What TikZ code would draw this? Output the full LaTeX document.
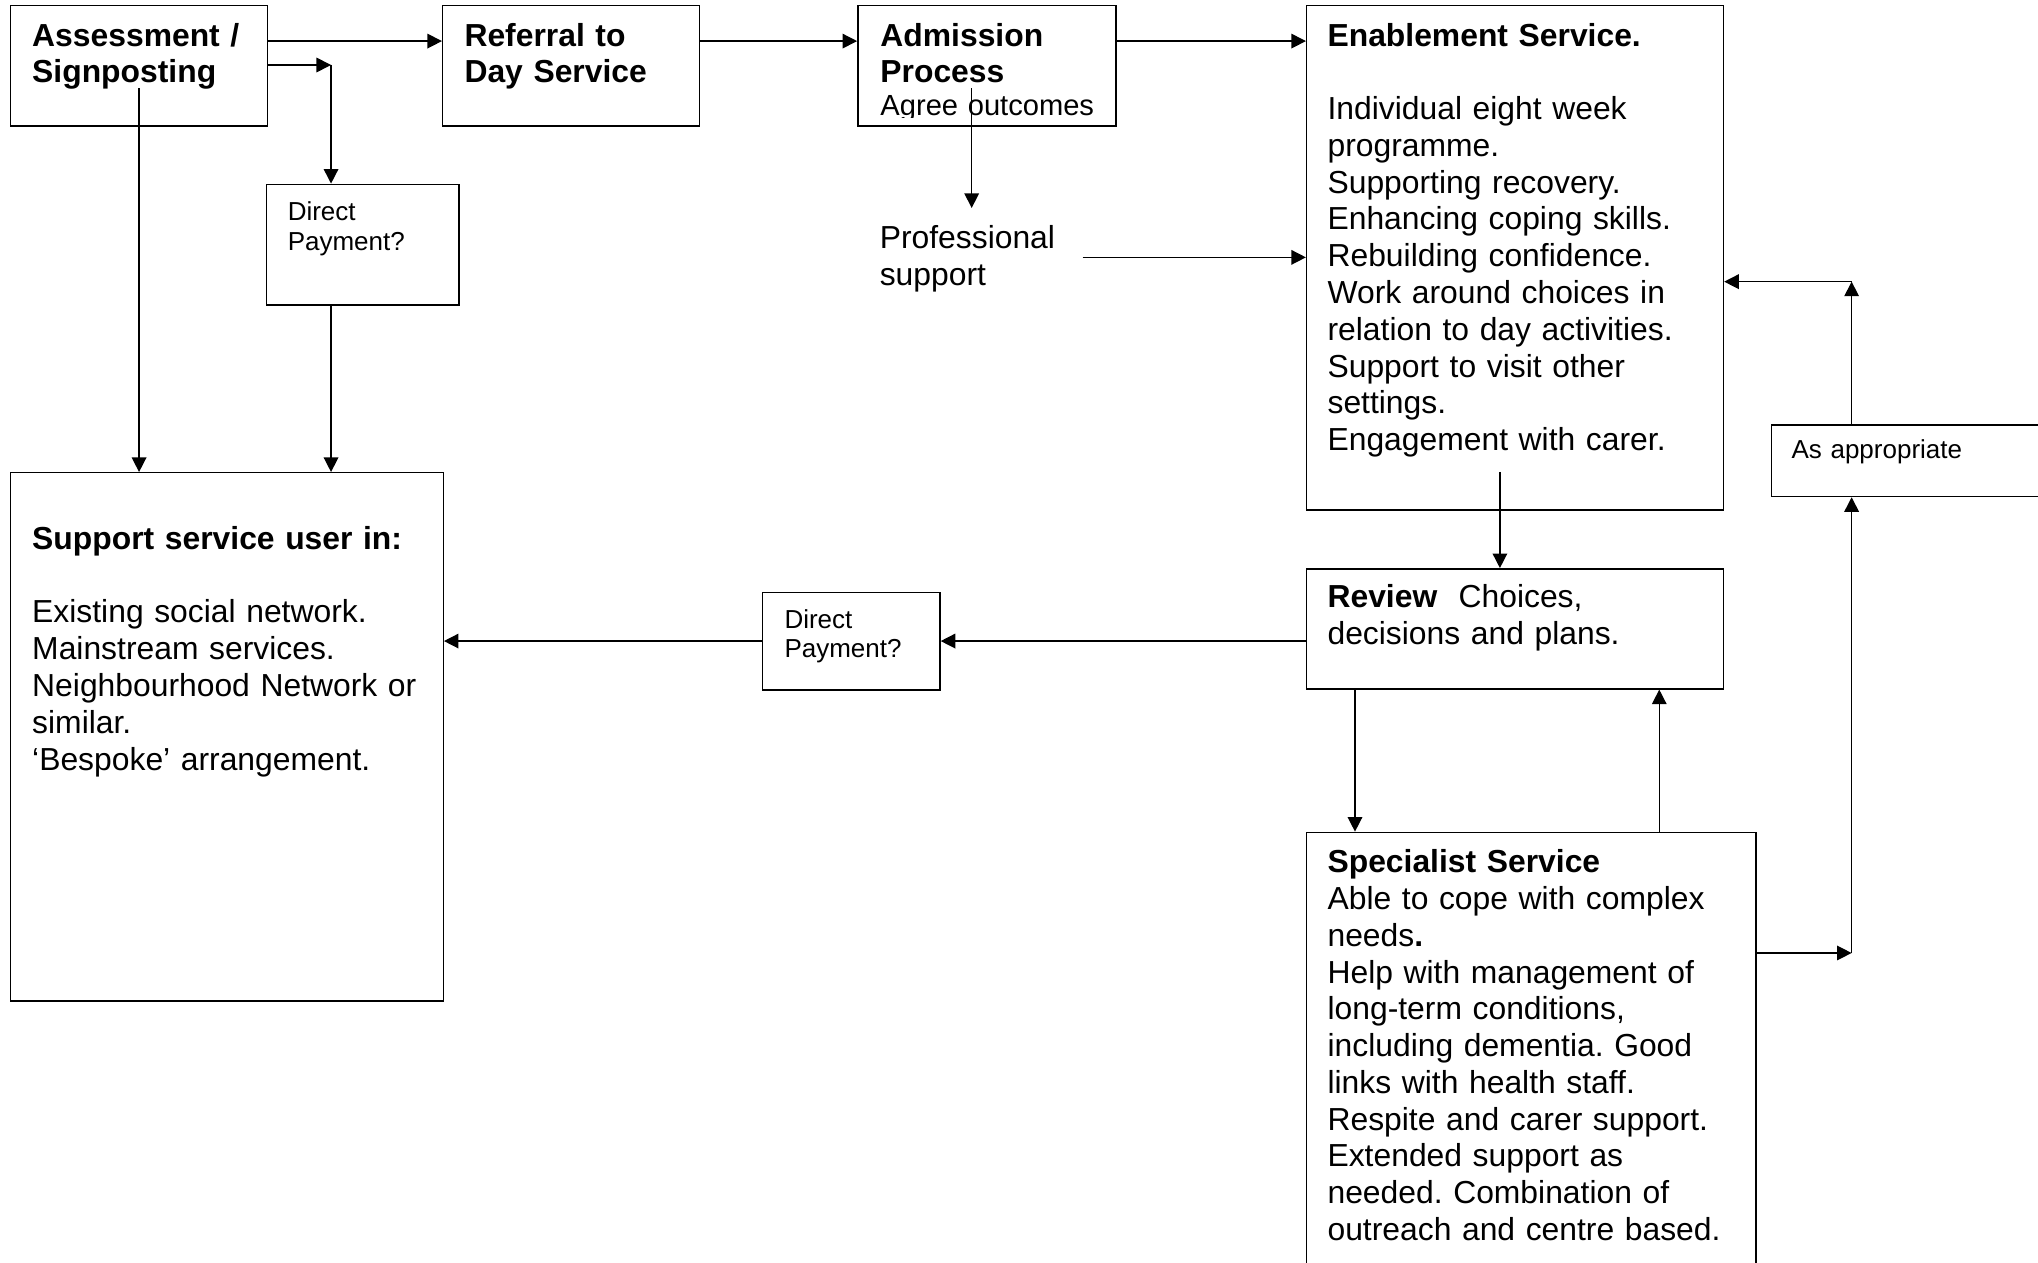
\documentclass[tikz,border=0pt]{standalone}
\usepackage{fontspec}
\setmainfont{Liberation Sans}
\usetikzlibrary{arrows.meta,positioning,fit,calc}
\frenchspacing

\begin{document}
\begin{tikzpicture}[x=0.5pt, y=-0.5pt]
  \tikzstyle{box} = [draw, line width=0.55pt, inner sep=0pt]
  \tikzstyle{txt} = [inner sep=0pt, anchor=base west, align=left, text width=300pt,
                     font=\fontsize{12.25}{14.15}\selectfont]
  \tikzstyle{small} = [inner sep=0pt, anchor=base west, align=left, text width=100pt,
                       font=\fontsize{10}{11.4}\selectfont]
  \tikzstyle{arr} = [line width=0.55pt, -{Triangle[length=5.6pt, width=5.6pt]}]

  \useasboundingbox (0,0) rectangle (1568,971);
  \clip (0,0) rectangle (1568,971);

  % boxes
  \node[box, fit={(8.2,4.4) (205.6,97)}] (assess) {};
  \node[box, fit={(340.6,4.4) (538,97)}] (referral) {};
  \node[box, fit={(660,4.4) (858.6,97)}] (admit) {};
  \node[box, fit={(1005.3,4.4) (1326,392.4)}] (enable) {};
  \node[box, fit={(205,141.8) (353,234.8)}] (dpone) {};
  \node[box, fit={(8.2,363.7) (341,770)}] (support) {};
  \node[box, fit={(586.8,456) (723.2,531)}] (dptwo) {};
  \node[box, fit={(1005.3,437.6) (1326,530)}] (review) {};
  \node[box, fit={(1362.8,327) (1590,382)}] (approp) {};
  \node[box, fit={(1005.3,640.4) (1351,1000)}] (special) {};

  % texts
  \node[txt] (assesstxt) at (24.4,35.4) {\textbf{Assessment /}\\\textbf{Signposting}};
  \node[txt] (referraltxt) at (357,35.4) {\textbf{Referral to}\\\textbf{Day Service}};
  \begin{scope}
    \clip (660,4.4) rectangle (858.6,90.5);
    \node[txt] (admittxt) at (677,35.4) {\textbf{Admission}\\\textbf{Process}};
    \node[txt, font=\fontsize{11.2}{13}\selectfont] (agreetxt) at (677,88.5) {Agree outcomes};
  \end{scope}
  \node[txt] (enabletxt) at (1021,35.4) {\textbf{Enablement Service.}\\ \mbox{}\\
    Individual eight week\\ programme.\\ Supporting recovery.\\ Enhancing coping skills.\\
    Rebuilding confidence.\\ Work around choices in\\ relation to day activities.\\
    Support to visit other\\ settings.\\ Engagement with carer.};
  \node[small] (dponetxt) at (221,169.8) {Direct\\ Payment?};
  \node[txt] (prof) at (676.5,191) {Professional\\ support};
  \node[txt] (supporttxt) at (24.4,422.7) {\textbf{Support service user in:}\\ \mbox{}\\
    Existing social network.\\ Mainstream services.\\ Neighbourhood Network or\\
    similar.\\ ‘Bespoke’ arrangement.};
  \node[small] (dptwotxt) at (603.2,483.4) {Direct\\ Payment?};
  \node[txt] (reviewtxt) at (1021,467.5) {\textbf{Review}\ \ Choices,\\ decisions and plans.};
  \node[small] (approptxt) at (1378,352.5) {As appropriate};
  \node[txt] (specialtxt) at (1021,671.4) {\textbf{Specialist Service}\\
    Able to cope with complex\\ needs\textbf{.}\\ Help with management of\\
    long-term conditions,\\ including dementia. Good\\ links with health staff.\\
    Respite and carer support.\\ Extended support as\\ needed. Combination of\\
    outreach and centre based.};

  % bends and free ends
  \coordinate (rowa) at (0,31.6);
  \coordinate (benda) at (254.7,50);
  \coordinate (assessfoot) at (107,68);
  \coordinate (admitfoot) at (747.6,68);
  \coordinate (proftip) at (747.6,160);
  \coordinate (profend) at (833,198);
  \coordinate (enablefoot) at (1154,363);
  \coordinate (rowb) at (0,493.2);
  \coordinate (downcol) at (1042.5,0);
  \coordinate (upcol) at (1276.6,0);
  \coordinate (bendb) at (1424.6,733.2);
  \coordinate (bendc) at (1424.6,216.7);

  % connection lines
  \draw[arr] (assess.east |- rowa) -- (referral.west |- rowa);
  \draw[arr] (referral.east |- rowa) -- (admit.west |- rowa);
  \draw[arr] (admit.east |- rowa) -- (enable.west |- rowa);
  \draw[arr] (assess.east |- benda) -- (benda);
  \draw[arr] (benda) -- (benda |- dpone.north);
  \draw[arr] (assessfoot) -- (assessfoot |- support.north);
  \draw[arr] (dpone.south -| benda) -- (benda |- support.north);
  \draw[arr] (admitfoot) -- (proftip);
  \draw[arr] (profend) -- (enable.west |- profend);
  \draw[arr] (enablefoot) -- (enablefoot |- review.north);
  \draw[arr] (review.west |- rowb) -- (dptwo.east |- rowb);
  \draw[arr] (dptwo.west |- rowb) -- (support.east |- rowb);
  \draw[arr] (review.south -| downcol) -- (special.north -| downcol);
  \draw[arr] (special.north -| upcol) -- (review.south -| upcol);
  \draw[arr] (special.east |- bendb) -- (bendb);
  \draw[arr] (bendb) -- (bendb |- approp.south);
  \draw[arr] (approp.north -| bendc) -- (bendc);
  \draw[arr] (bendc) -- (enable.east |- bendc);

\end{tikzpicture}
\end{document}
